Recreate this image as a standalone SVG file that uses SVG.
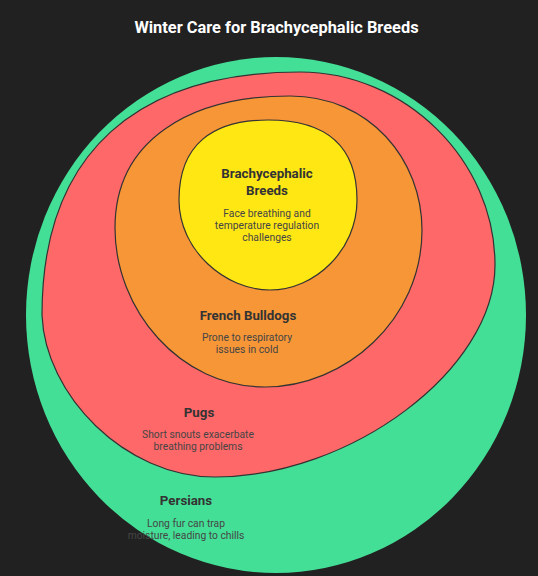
<svg xmlns="http://www.w3.org/2000/svg" width="538" height="576" viewBox="0 0 538 576">
<style>
.bg{fill:#212121}
.lyr{stroke:#333333;stroke-width:1.2}
.title{font-family:Roboto,"Liberation Sans",sans-serif;font-weight:700;font-size:16.4px;fill:#ffffff;text-anchor:middle}
.hd{font-family:Roboto,"Liberation Sans",sans-serif;font-weight:700;font-size:13.3px;fill:#333333;text-anchor:middle}
.ds{font-family:Roboto,"Liberation Sans",sans-serif;font-weight:400;font-size:10.3px;fill:#454545;text-anchor:middle}
</style>
<rect class="bg" x="0" y="0" width="538" height="576"/>
<text class="title" x="276.5" y="33">Winter Care for Brachycephalic Breeds</text>
<g id="persians">
<ellipse cx="276" cy="315" rx="250" ry="258" fill="#44DF97"/>
</g>
<g id="pugs">
<path class="lyr" fill="#FF6868" d="M300,72 C405,72 495,160 495,265 C495,370 350,477 215,477 C125,477 45,395 42,315 C42,150 140,72 300,72 Z"/>
</g>
<g id="french-bulldogs">
<path class="lyr" fill="#F79637" d="M290,96 C370,96 422,160 422,230 C422,320 345,387 265,387 C180,387 115,310 115,228 C115,140 190,96 290,96 Z"/>
</g>
<g id="brachycephalic-breeds">
<path class="lyr" fill="#FFE713" d="M268,120 C325,120 357,145 357,200 C357,250 315,290 270,290 C225,290 179,250 179,200 C179,145 212,120 268,120 Z"/>
</g>
<g id="connectors"></g>
<g id="labels">
<text class="hd" x="267" y="178">Brachycephalic</text>
<text class="hd" x="267" y="194.5">Breeds</text>
<text class="ds" x="267" y="217">Face breathing and</text>
<text class="ds" x="267" y="229">temperature regulation</text>
<text class="ds" x="267" y="241">challenges</text>
<text class="hd" x="248" y="320">French Bulldogs</text>
<text class="ds" x="247" y="341">Prone to respiratory</text>
<text class="ds" x="247" y="353">issues in cold</text>
<text class="hd" x="199" y="417">Pugs</text>
<text class="ds" x="198" y="438">Short snouts exacerbate</text>
<text class="ds" x="198" y="450">breathing problems</text>
<text class="hd" x="186" y="505">Persians</text>
<text class="ds" x="186" y="527">Long fur can trap</text>
<text class="ds" x="186" y="539">moisture, leading to chills</text>
</g>
</svg>
